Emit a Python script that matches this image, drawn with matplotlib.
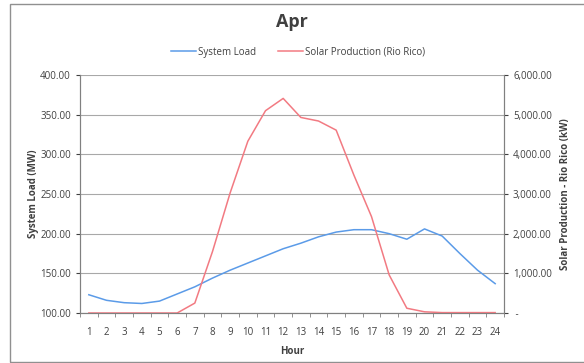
import matplotlib.pyplot as plt
from matplotlib.patches import Rectangle
from matplotlib.ticker import FuncFormatter, MultipleLocator
import numpy as np

plt.rcParams['font.family'] = ['Open Sans', 'DejaVu Sans']

hours = list(range(1, 25))
system_load = [123, 116, 113, 112, 115, 124, 133, 144, 154, 163, 172, 181,
               188, 196, 202, 205, 205, 200, 193, 206, 197, 175, 154, 137]
solar = [0, 0, 0, 0, 0, 0, 250, 1550, 3030, 4330, 5100, 5410,
         4930, 4840, 4610, 3480, 2430, 960, 120, 30, 10, 10, 10, 10]

blue = '#5b9be8'
red = '#f27a82'
txt = '#404040'

fig = plt.figure(figsize=(5.84, 3.63), dpi=100)
ax = fig.add_axes([80/584, 1-313/363, 424/584, 238/363])
ax2 = ax.twinx()

l1, = ax.plot(hours, system_load, color=blue, lw=1.1, label='System Load')
l2, = ax2.plot(hours, solar, color=red, lw=1.1, label='Solar Production (Rio Rico)')

ax.set_xlim(0.5, 24.5)
ax.set_ylim(100, 400)
ax2.set_ylim(0, 6000)
ax.yaxis.set_major_locator(MultipleLocator(50))
ax2.yaxis.set_major_locator(MultipleLocator(1000))
ax.set_xticks(hours)
ax.set_xticks(np.arange(0.5, 25, 1), minor=True)
ax.yaxis.set_major_formatter(FuncFormatter(lambda v, p: f'{v:.2f}'))
ax2.yaxis.set_major_formatter(FuncFormatter(lambda v, p: ' -' if v == 0 else f'{v:,.2f}'))

ax.grid(axis='y', color='#a8a8a8', lw=0.8)
ax.set_axisbelow(True)
for a in (ax, ax2):
    for s in a.spines.values():
        s.set_color('#808080')
    a.spines['top'].set_visible(False)
    a.tick_params(colors=txt, labelsize=7, length=3, width=0.8)
ax.tick_params(axis='x', which='major', length=0, pad=10)
ax.tick_params(axis='x', which='minor', length=3, color='#808080')

ax.set_xlabel('Hour', fontsize=7, fontweight='bold', color=txt, labelpad=6)
ax.set_ylabel('System Load (MW)', fontsize=7, fontweight='bold', color=txt, labelpad=1)
ax2.set_ylabel('Solar Production - Rio Rico (kW)', fontsize=7, fontweight='bold', color=txt, labelpad=6)

fig.text(0.5, 1-22/363, 'Apr', ha='center', va='center', fontsize=13, fontweight='bold', color=txt)
fig.legend(handles=[l1, l2], loc='center', bbox_to_anchor=(0.51, 1-52/363), ncol=2,
           frameon=False, fontsize=7, handlelength=2.6, columnspacing=2.2, handletextpad=0.2,
           labelcolor=txt)

fig.patches.append(Rectangle((10/584, 0.003), 1.2, 1-0.003-4/363, transform=fig.transFigure,
                             fill=False, edgecolor='#909090', lw=1))

fig.savefig('out.png', dpi=100)
